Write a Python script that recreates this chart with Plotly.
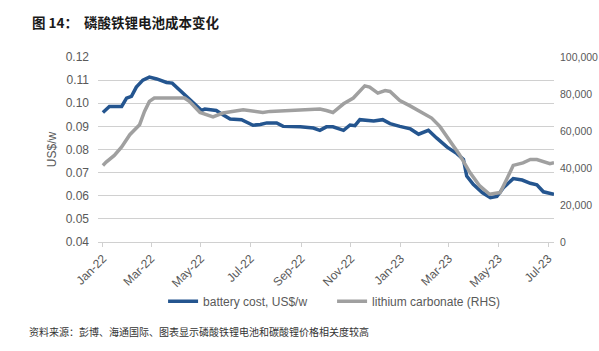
import plotly.graph_objects as go

# ---- data ----
battery_dates = ["2022-01-01", "2022-01-09", "2022-01-24", "2022-01-30", "2022-02-05", "2022-02-11",
                 "2022-02-19", "2022-02-27", "2022-03-08", "2022-03-20", "2022-03-27", "2022-04-03",
                 "2022-04-11", "2022-04-21", "2022-05-02", "2022-05-06", "2022-05-20", "2022-05-26",
                 "2022-06-06", "2022-06-20", "2022-07-04", "2022-07-13", "2022-07-21", "2022-08-02",
                 "2022-08-10", "2022-08-31", "2022-09-16", "2022-09-24", "2022-10-02", "2022-10-10",
                 "2022-10-23", "2022-10-31", "2022-11-06", "2022-11-12", "2022-11-29", "2022-12-10",
                 "2022-12-19", "2022-12-31", "2023-01-13", "2023-01-23", "2023-02-04", "2023-02-14",
                 "2023-02-27", "2023-03-11", "2023-03-19", "2023-03-23", "2023-03-31", "2023-04-11",
                 "2023-04-21", "2023-04-29", "2023-05-07", "2023-05-19", "2023-05-30", "2023-06-09",
                 "2023-06-17", "2023-06-25", "2023-07-08"]
battery_cost = [0.0960, 0.0986, 0.0986, 0.1022, 0.1030, 0.1070,
                0.1100, 0.1113, 0.1105, 0.1090, 0.1087, 0.1065,
                0.1040, 0.1008, 0.0969, 0.0975, 0.0969, 0.0955,
                0.0932, 0.0929, 0.0905, 0.0908, 0.0915, 0.0915,
                0.0900, 0.0898, 0.0893, 0.0883, 0.0898, 0.0898,
                0.0883, 0.0906, 0.0903, 0.0929, 0.0923, 0.0929,
                0.0912, 0.0900, 0.0889, 0.0866, 0.0883, 0.0850,
                0.0810, 0.0782, 0.0757, 0.0685, 0.0649, 0.0614,
                0.0592, 0.0597, 0.0635, 0.0674, 0.0668, 0.0654,
                0.0647, 0.0617, 0.0606]

lithium_dates = ["2022-01-01", "2022-01-05", "2022-01-15", "2022-01-24", "2022-02-03", "2022-02-11",
                 "2022-02-15", "2022-02-21", "2022-02-27", "2022-03-05", "2022-04-11", "2022-04-17",
                 "2022-04-30", "2022-05-16", "2022-05-28", "2022-06-22", "2022-07-16", "2022-07-25",
                 "2022-09-03", "2022-09-24", "2022-10-02", "2022-10-10", "2022-10-23", "2022-11-04",
                 "2022-11-18", "2022-11-24", "2022-12-04", "2022-12-13", "2022-12-19", "2022-12-31",
                 "2023-01-12", "2023-01-25", "2023-02-08", "2023-02-18", "2023-03-02", "2023-03-14",
                 "2023-03-27", "2023-04-08", "2023-04-20", "2023-05-03", "2023-05-11", "2023-05-19",
                 "2023-05-31", "2023-06-09", "2023-06-17", "2023-06-25", "2023-07-03", "2023-07-08"]
lithium_carbonate = [41400, 43200, 46800, 51400, 58000, 61700,
                     63400, 70600, 76000, 77800, 77800, 76000,
                     70000, 67600, 69700, 71500, 70000, 70600,
                     71500, 71900, 71100, 70000, 74700, 77800,
                     84400, 83700, 80500, 81900, 81400, 76500,
                     73700, 70600, 67000, 62500, 54500, 47300,
                     37500, 30300, 25800, 26700, 33900, 41400,
                     42800, 44600, 44600, 43400, 42300, 42800]

tick_dates = ["2022-01-01", "2022-03-01", "2022-05-01", "2022-07-01", "2022-09-01",
              "2022-11-01", "2023-01-01", "2023-03-01", "2023-05-01", "2023-07-01"]
tick_labels = ["Jan-22", "Mar-22", "May-22", "Jul-22", "Sep-22",
               "Nov-22", "Jan-23", "Mar-23", "May-23", "Jul-23"]
left_ticks = [0.04, 0.05, 0.06, 0.07, 0.08, 0.09, 0.10, 0.11, 0.12]
left_labels = ["0.04", "0.05", "0.06", "0.07", "0.08", "0.09", "0.10", "0.11", "0.12"]
right_ticks = [0, 20000, 40000, 60000, 80000, 100000]
right_labels = ["0", "20,000", "40,000", "60,000", "80,000", "100,000"]

title_text = "图 14：  磷酸铁锂电池成本变化"
source_text = "资料来源：彭博、海通国际、图表显示磷酸铁锂电池和碳酸锂价格相关度较高"

BLUE = "#24558f"
GRAY = "#a0a0a0"
TXT = "#595959"
FONT = "Liberation Sans"

fig = go.Figure()
fig.add_trace(go.Scatter(x=lithium_dates, y=lithium_carbonate, mode="lines",
                         name="lithium carbonate (RHS)", yaxis="y2",
                         line=dict(color=GRAY, width=3.5)))
fig.add_trace(go.Scatter(x=battery_dates, y=battery_cost, mode="lines",
                         name="battery cost, US$/w",
                         line=dict(color=BLUE, width=3.5)))

fig.update_layout(
    width=599, height=351,
    template="none",
    paper_bgcolor="white", plot_bgcolor="white",
    margin=dict(l=98, r=45, t=57, b=109, autoexpand=False),
    font=dict(family=FONT, size=12, color=TXT),
    showlegend=True,
    legend=dict(orientation="h", x=0.1427, xanchor="left", y=-0.32, yanchor="middle",
                font=dict(family=FONT, size=12, color=TXT),
                traceorder="reversed",
                entrywidth=124, entrywidthmode="pixels",
                bgcolor="rgba(0,0,0,0)"),
    xaxis=dict(type="date", range=["2021-12-26", "2023-07-08"],
               tickmode="array", tickvals=tick_dates, ticktext=tick_labels,
               tickangle=-45, ticks="outside", ticklen=4, tickcolor="#d0d0d0",
               showline=True, linecolor="#d0d0d0", linewidth=1,
               showgrid=False, zeroline=False, automargin=False,
               tickfont=dict(family=FONT, size=12, color=TXT)),
    yaxis=dict(range=[0.04, 0.12], tickmode="array", tickvals=left_ticks, ticktext=left_labels,
               showgrid=True, gridcolor="#d0d0d0", gridwidth=1, zeroline=False,
               showline=False, ticks="", automargin=False, ticklabelstandoff=8,
               title=dict(text="US$/w", standoff=6, font=dict(family=FONT, size=12, color=TXT)),
               tickfont=dict(family=FONT, size=12, color=TXT)),
    yaxis2=dict(range=[0, 100000], overlaying="y", side="right",
                tickmode="array", tickvals=right_ticks, ticktext=right_labels,
                showgrid=False, zeroline=False, showline=False, ticks="",
                automargin=False, ticklabelstandoff=5,
                tickfont=dict(family=FONT, size=10.5, color=TXT)),
    annotations=[
        dict(text="<b>" + title_text + "</b>", xref="paper", yref="paper", x=(30 - 98) / 456,
             y=1 + (57 - 22) / 185, xanchor="left", yanchor="middle", showarrow=False,
             font=dict(family="Noto Sans CJK SC", size=13.5, color="#1a1a1a")),
        dict(text=source_text, xref="paper", yref="paper", x=(27 - 98) / 456,
             y=-(331 - 242) / 185, xanchor="left", yanchor="middle", showarrow=False,
             font=dict(family="Noto Sans CJK SC", size=10, color="#333333")),
    ],
)

fig.write_html("out.html")
